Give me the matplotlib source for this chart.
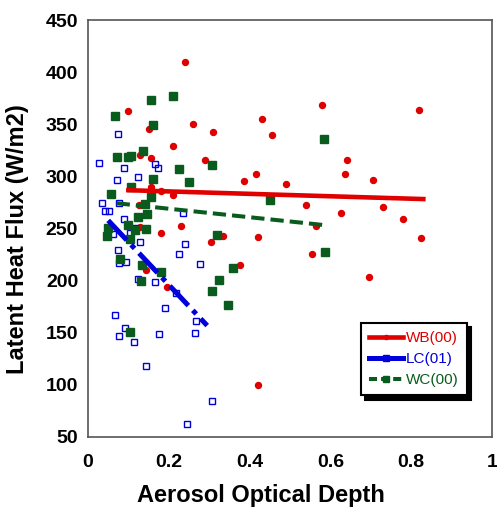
import numpy as np
import matplotlib
matplotlib.use("Agg")
import matplotlib.pyplot as plt
from matplotlib.lines import Line2D

plt.rcParams['font.family'] = ['Liberation Sans', 'DejaVu Sans']

# WB(00) points
wb_x = [0.10, 0.24, 0.26, 0.31, 0.15, 0.21, 0.13, 0.155, 0.29, 0.58, 0.82, 0.43,
        0.455, 0.64, 0.415, 0.635, 0.705, 0.385, 0.49, 0.155, 0.18, 0.21, 0.127,
        0.54, 0.625, 0.73, 0.78, 0.565, 0.42, 0.825, 0.23, 0.18, 0.335, 0.128,
        0.305, 0.555, 0.377, 0.695, 0.42, 0.144, 0.196]
wb_y = [363, 410, 351, 343, 346, 329, 321, 318, 316, 369, 364, 355,
        340, 316, 303, 303, 297, 296, 293, 290, 286, 282, 273,
        273, 265, 271, 259, 253, 242, 241, 253, 246, 243, 252,
        237, 226, 215, 204, 100, 210, 194]

# LC(01) points
lc_x = [0.075, 0.028, 0.09, 0.071, 0.124, 0.167, 0.173, 0.035, 0.042, 0.052,
        0.077, 0.234, 0.088, 0.116, 0.063, 0.104, 0.13, 0.075, 0.241, 0.226,
        0.277, 0.077, 0.093, 0.124, 0.165, 0.217, 0.19, 0.267, 0.265, 0.068,
        0.091, 0.077, 0.115, 0.177, 0.144, 0.306, 0.245]
lc_y = [341, 313, 308, 297, 300, 312, 308, 275, 267, 267,
        275, 265, 259, 251, 245, 246, 237, 230, 235, 226,
        216, 217, 218, 202, 199, 188, 174, 161, 150, 167,
        155, 147, 141, 149, 118, 85, 62]

# WC(00) points
wc_x = [0.155, 0.21, 0.067, 0.16, 0.135, 0.073, 0.098, 0.106, 0.225, 0.308,
        0.16, 0.25, 0.106, 0.057, 0.155, 0.14, 0.145, 0.124, 0.05, 0.098,
        0.117, 0.143, 0.048, 0.103, 0.32, 0.08, 0.133, 0.181, 0.132, 0.36,
        0.325, 0.306, 0.347, 0.105, 0.585, 0.45, 0.587]
wc_y = [374, 377, 358, 350, 325, 319, 319, 320, 307, 311,
        298, 295, 290, 283, 280, 274, 264, 261, 251, 254,
        249, 250, 243, 240, 244, 221, 215, 208, 200, 212,
        201, 190, 177, 151, 336, 278, 228]

# trend lines (end points)
wb_fit_x = [0.10, 0.83]
wb_fit_y = [287, 278.5]
lc_fit_x = [0.05, 0.295]
lc_fit_y = [258, 157]
wc_fit_x = [0.071, 0.585]
wc_fit_y = [274.5, 253.5]

red = '#e00000'
blue = '#0000dd'
green = '#0a5c1e'

fig = plt.figure(figsize=(4.97, 5.12), dpi=100)
ax = fig.add_axes([0.177, 0.1465, 0.813, 0.8135])

ax.plot(wb_x, wb_y, 'o', color=red, ms=4.3, mec=red, zorder=3)
ax.plot(lc_x, lc_y, 's', mfc='none', mec=blue, ms=5, mew=1.0, zorder=3)
ax.plot(wc_x, wc_y, 's', color=green, ms=6, zorder=3)

ax.plot(wb_fit_x, wb_fit_y, '-', color=red, lw=3.3, zorder=4)
ax.plot(lc_fit_x, lc_fit_y, color=blue, lw=3.6, dashes=(5.4, 1.3, 1.0, 1.3), zorder=4)
ax.plot(wc_fit_x, wc_fit_y, color=green, lw=2.9, dashes=(3.3, 1.5), zorder=4)

ax.set_xlim(0, 1)
ax.set_ylim(50, 450)
ax.set_xticks([0, 0.2, 0.4, 0.6, 0.8, 1])
ax.set_xticklabels(['0', '0.2', '0.4', '0.6', '0.8', '1'])
ax.set_yticks(range(50, 451, 50))
ax.tick_params(length=0, labelsize=14)
ax.tick_params(axis='x', pad=12)
ax.tick_params(axis='y', pad=7)
for lab in ax.get_xticklabels() + ax.get_yticklabels():
    lab.set_fontweight('bold')
for s in ax.spines.values():
    s.set_color('#555555')
    s.set_linewidth(1.2)

ax.set_xlabel('Aerosol Optical Depth', fontsize=17, fontweight='bold')
ax.set_ylabel('Latent Heat Flux (W/m2)', fontsize=17, fontweight='bold')
ax.xaxis.set_label_coords(0.428, -0.113)
ax.yaxis.set_label_coords(-0.145, 0.475)

handles = [
    Line2D([], [], color=red, lw=3.3, marker='o', ms=3),
    Line2D([], [], color=blue, lw=3.6, marker='s', ms=4, mfc='none'),
    Line2D([], [], color=green, lw=2.9, dashes=(2.0, 1.0), marker='s', ms=5),
]
leg = ax.legend(handles, ['WB(00)', 'LC(01)', 'WC(00)'], loc='upper left',
                bbox_to_anchor=(0.675, 0.274), fontsize=11, frameon=True,
                fancybox=False, edgecolor='black', handlelength=2.2,
                handletextpad=0.2, labelspacing=0.45, borderpad=0.55,
                borderaxespad=0,
                shadow={'color': 'black', 'alpha': 1.0, 'ox': 3, 'oy': -3})
leg.get_frame().set_linewidth(1.5)
for t, c in zip(leg.get_texts(), [red, blue, green]):
    t.set_color(c)

fig.savefig('out.png', dpi=100)
